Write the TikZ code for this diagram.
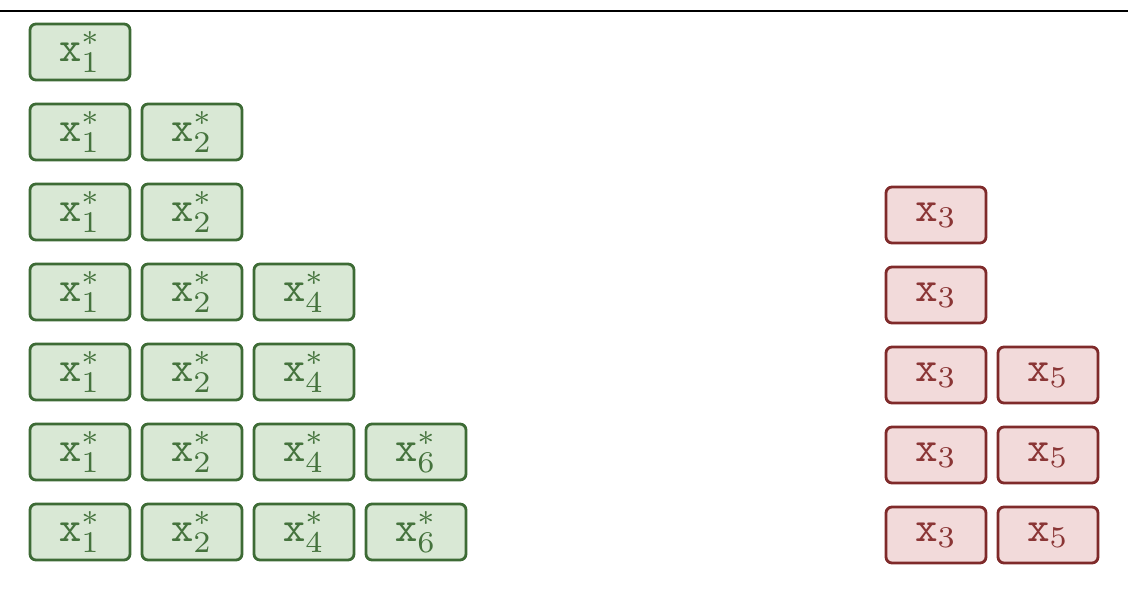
\documentclass[tikz,border=0pt]{standalone}
\usepackage{graphicx}
\usepackage{tikz}
\definecolor{gfill}{HTML}{D9E8D5}
\definecolor{gdraw}{HTML}{3D6B35}
\definecolor{gtext}{HTML}{45733D}
\definecolor{rfill}{HTML}{F2DADA}
\definecolor{rdraw}{HTML}{7F2A2A}
\definecolor{rtext}{HTML}{8A3535}
\newcommand{\bigtxt}[1]{\scalebox{4.3}{#1}}
\tikzset{
  cell/.style={rounded corners=6pt, line width=2.8pt, minimum width=100pt, minimum height=56pt, inner sep=0pt},
  gcell/.style={cell, draw=gdraw, fill=gfill, text=gtext},
  rcell/.style={cell, draw=rdraw, fill=rfill, text=rtext},
}
\begin{document}
\begin{tikzpicture}[x=1pt,y=-1pt]
\useasboundingbox (0,0) rectangle (1128,589);
\coordinate (tl) at (0,11);
\coordinate (tr) at (1128,11);
\draw[line width=2pt] (tl) -- (tr);
% green rows
\foreach \r/\n in {1/1,2/2,3/2,4/3,5/3,6/4,7/4}{
  \foreach \c/\s in {1/1,2/2,3/4,4/6}{
    \ifnum\c>\n\relax\else
      \node[gcell] (g\r-\c) at ({80+112*(\c-1)},{52+80*(\r-1)}) {\bigtxt{$\mathtt{x}_{\s}^{*}$}};
    \fi
  }
}
% red rows
\foreach \r/\n in {3/1,4/1,5/2,6/2,7/2}{
  \foreach \c/\s in {1/3,2/5}{
    \ifnum\c>\n\relax\else
      \node[rcell] (r\r-\c) at ({936+112*(\c-1)},{215+80*(\r-3)}) {\bigtxt{$\mathtt{x}_{\s}$}};
    \fi
  }
}
\end{tikzpicture}
\end{document}
